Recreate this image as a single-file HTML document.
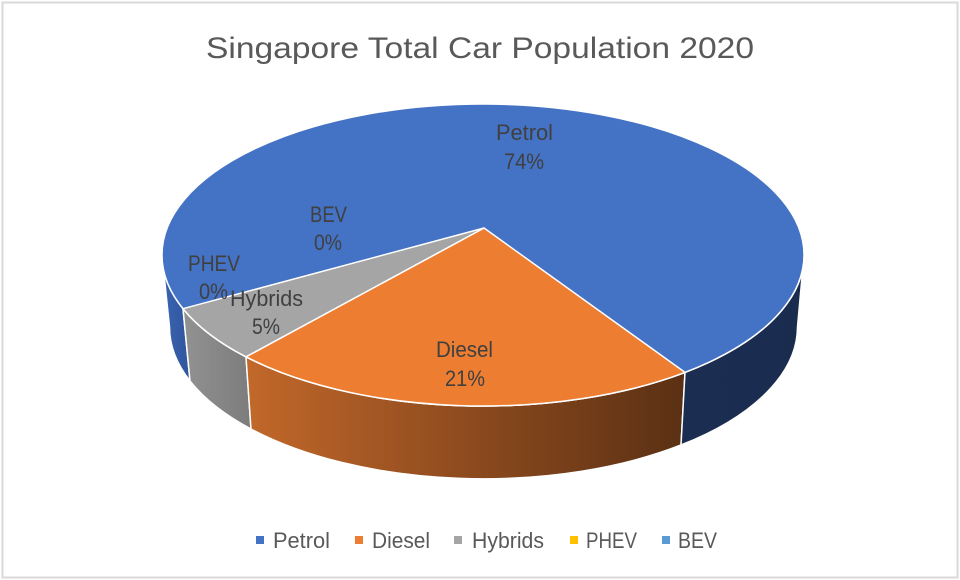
<!DOCTYPE html>
<html>
<head>
<meta charset="utf-8">
<style>
  html, body { margin: 0; padding: 0; background: #ffffff; }
  body { width: 960px; height: 580px; overflow: hidden; }
  svg { display: block; }
  text { font-family: "Liberation Sans", "DejaVu Sans", sans-serif; }
</style>
</head>
<body>
<svg width="960" height="580" viewBox="0 0 960 580" xmlns="http://www.w3.org/2000/svg">
  <defs>
    <linearGradient id="gOrange" x1="246" y1="0" x2="685" y2="0" gradientUnits="userSpaceOnUse">
      <stop offset="0" stop-color="#c2682a"/>
      <stop offset="0.5" stop-color="#8e4b1e"/>
      <stop offset="1" stop-color="#5a3014"/>
    </linearGradient>
    <linearGradient id="gGray" x1="183" y1="0" x2="251" y2="0" gradientUnits="userSpaceOnUse">
      <stop offset="0" stop-color="#929292"/>
      <stop offset="1" stop-color="#7c7c7c"/>
    </linearGradient>
    <linearGradient id="gBlueL" x1="162" y1="0" x2="190" y2="0" gradientUnits="userSpaceOnUse">
      <stop offset="0" stop-color="#3b65b3"/>
      <stop offset="1" stop-color="#2f559c"/>
    </linearGradient>
    <linearGradient id="gBlueR" x1="681" y1="0" x2="804" y2="0" gradientUnits="userSpaceOnUse">
      <stop offset="0" stop-color="#1b2e52"/>
      <stop offset="1" stop-color="#1a2c4e"/>
    </linearGradient>
  </defs>

  <!-- chart frame -->
  <rect x="2.5" y="2.5" width="955" height="575" fill="#ffffff" stroke="#d9d9d9" stroke-width="2"/>

  <!-- title -->
  <text x="480" y="58" text-anchor="middle" font-size="30" fill="#595959" textLength="548" lengthAdjust="spacingAndGlyphs">Singapore Total Car Population 2020</text>

  <!-- side faces -->
  <path d="M162,255 A321,151 0 0 0 183,308.7 L190,381 A314,152 0 0 1 169.5,327 Z" fill="url(#gBlueL)" stroke="#ffffff" stroke-width="1.5" stroke-linejoin="round"/>
  <path d="M183,308.7 A321,151 0 0 0 246,356.8 L251,429 A314,152 0 0 1 190,381 Z" fill="url(#gGray)" stroke="#ffffff" stroke-width="1.5" stroke-linejoin="round"/>
  <path d="M246,356.8 A321,151 0 0 0 685,372.4 L681,445 A314,152 0 0 1 251,429 Z" fill="url(#gOrange)" stroke="#ffffff" stroke-width="1.5" stroke-linejoin="round"/>
  <path d="M685,372.4 A321,151 0 0 0 804,255 L797.5,327 A314,152 0 0 1 681,445 Z" fill="url(#gBlueR)" stroke="#ffffff" stroke-width="1.5" stroke-linejoin="round"/>

  <!-- top faces -->
  <ellipse cx="483" cy="255" rx="321" ry="151" fill="#4472c4" stroke="#ffffff" stroke-width="1.5"/>
  <path d="M484,228 L685,372.4 A321,151 0 0 1 246,356.8 Z" fill="#ed7d31" stroke="#ffffff" stroke-width="1.5" stroke-linejoin="round"/>
  <path d="M484,228 L246,356.8 A321,151 0 0 1 183,308.7 Z" fill="#a5a5a5" stroke="#ffffff" stroke-width="1.5" stroke-linejoin="round"/>

  <!-- data labels -->
  <g font-size="22" fill="#404040" text-anchor="middle">
    <text x="524.5" y="140" textLength="57" lengthAdjust="spacingAndGlyphs">Petrol</text>
    <text x="524" y="169" textLength="40" lengthAdjust="spacingAndGlyphs">74%</text>

    <text x="328.5" y="222" textLength="37" lengthAdjust="spacingAndGlyphs">BEV</text>
    <text x="328" y="250" textLength="28" lengthAdjust="spacingAndGlyphs">0%</text>

    <text x="214" y="271" textLength="52" lengthAdjust="spacingAndGlyphs">PHEV</text>
    <text x="213.5" y="299" textLength="29" lengthAdjust="spacingAndGlyphs">0%</text>

    <text x="266.5" y="306" textLength="73" lengthAdjust="spacingAndGlyphs">Hybrids</text>
    <text x="266" y="334" textLength="28" lengthAdjust="spacingAndGlyphs">5%</text>

    <text x="464.5" y="357" textLength="57" lengthAdjust="spacingAndGlyphs">Diesel</text>
    <text x="465" y="386" textLength="40" lengthAdjust="spacingAndGlyphs">21%</text>
  </g>

  <!-- legend -->
  <g font-size="22" fill="#595959">
    <rect x="256" y="536" width="8" height="8" fill="#4472c4"/>
    <text x="273" y="548" textLength="57" lengthAdjust="spacingAndGlyphs">Petrol</text>

    <rect x="355" y="536" width="8" height="8" fill="#ed7d31"/>
    <text x="372" y="548" textLength="58" lengthAdjust="spacingAndGlyphs">Diesel</text>

    <rect x="454" y="536" width="8" height="8" fill="#a5a5a5"/>
    <text x="472" y="548" textLength="72" lengthAdjust="spacingAndGlyphs">Hybrids</text>

    <rect x="570" y="536" width="8" height="8" fill="#ffc000"/>
    <text x="586" y="548" textLength="51" lengthAdjust="spacingAndGlyphs">PHEV</text>

    <rect x="662" y="536" width="8" height="8" fill="#5b9bd5"/>
    <text x="678" y="548" textLength="39" lengthAdjust="spacingAndGlyphs">BEV</text>
  </g>
</svg>
</body>
</html>
